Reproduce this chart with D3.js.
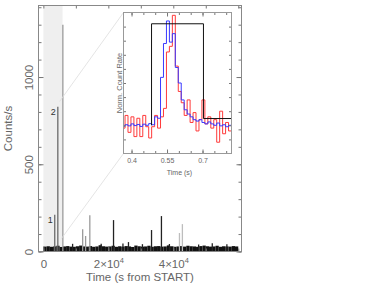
<!DOCTYPE html>
<html>
<head>
<meta charset="utf-8">
<script src="https://cdn.jsdelivr.net/npm/d3@7"></script>
<style>
  body { margin: 0; background: #fff; }
  svg { display: block; font-family: "Liberation Sans", Arial, sans-serif; }
</style>
</head>
<body>
<svg id="chart" width="382" height="286"></svg>
<script>
// light curve, 1000 s bins (counts/s)
const binWidth = 1000;
const baseRate = [28, 30, 27, 29, 33, 26, 29, 31, 28, 27, 30, 34, 29, 28, 31, 27, 29, 36, 30, 28,
                  29, 33, 27, 30, 28, 31, 29, 26, 34, 30, 28, 29, 33, 27, 30, 31, 28, 29, 35, 30,
                  27, 29, 31, 28, 33, 30, 29, 27, 31, 34, 30, 28, 29, 33, 27, 30, 29, 28, 31, 29];

// short spikes above the persistent level
const spikeTime = [3500, 4450, 6000, 12100, 13000, 14300, 17800, 21600, 26200, 30500, 33300, 36350, 41900, 42800, 47800, 52000, 9000, 24500, 38800, 56500];
const spikeRate = [210, 830, 1300, 128, 89, 208, 45, 180, 54, 42, 123, 203, 106, 157, 40, 48, 44, 46, 43, 41];
const spikeKind = ["burst", "burst", "grey", "grey", "grey", "grey", "flare", "flare", "flare", "flare", "flare", "flare", "faint", "faint", "flare", "flare", "flare", "flare", "flare", "flare"];
const burstLabel = [{idx: 0, text: "1"}, {idx: 1, text: "2"}];
const zoomSpan = [0, 5900];

// inset: normalised rate of burst 2, 12.5 ms bins
const insetBin = 0.0125;
const insetStart = 0.36;
const blueRate = [0.97, 1.02, 0.98, 1.05, 0.99, 1.03, 0.96, 1.04, 1.0, 1.06, 1.02, 1.3, 1.25, 2.7, 3.9,
                  4.7, 3.95, 4.25, 3.05, 2.5, 1.9, 1.55, 1.4, 1.3, 1.2, 1.15, 1.2, 1.1, 1.05, 1.12, 1.05,
                  1.0, 1.08, 0.98, 1.02, 0.95, 1.0];
const redRate = [0.9, 1.35, 0.75, 1.3, 0.6, 1.25, 0.6, 1.35, 0.95, 0.55, 0.95, 1.35, 0.9, 1.3, 1.6, 3.6,
                 3.8, 4.9, 3.1, 2.2, 1.8, 1.35, 1.9, 1.1, 1.45, 0.8, 1.2, 1.9, 1.05, 1.3, 0.9, 1.2,
                 0.4, 1.5, 0.7, 1.1, 0.8];
const modelTime = [0.4845, 0.4845, 0.704, 0.8225];
const modelRate = [1.0, 4.6, 1.24, 1.24];
const insetTicks = [0.4, 0.55, 0.7];

const svg = d3.select("#chart");
const frame = {left: 38.5, right: 241.5, top: 5.5, bottom: 251.5};

const x = d3.scaleLinear().domain([-1500, 61000]).range([frame.left, frame.right]);
const y = d3.scaleLinear().domain([0, 1410]).range([frame.bottom, frame.top]);
const kindColor = d3.scaleOrdinal()
    .domain(["burst", "grey", "flare", "faint"])
    .range(["#6a6a6a", "#9a9a9a", "#222", "#bdbdbd"]);

// shaded zoom interval
svg.append("rect")
    .attr("x", x(zoomSpan[0])).attr("y", frame.top)
    .attr("width", x(zoomSpan[1]) - x(zoomSpan[0]))
    .attr("height", frame.bottom - frame.top)
    .attr("fill", "#efefef");

// persistent emission
svg.append("g").selectAll("rect")
    .data(baseRate)
    .join("rect")
    .attr("x", (d, i) => x(i * binWidth))
    .attr("width", (d, i) => x((i + 1) * binWidth) - x(i * binWidth))
    .attr("y", d => y(d))
    .attr("height", d => y(0) - y(d))
    .attr("fill", "#111");

svg.append("g").selectAll("line")
    .data(spikeTime)
    .join("line")
    .attr("x1", d => x(d)).attr("x2", d => x(d))
    .attr("y1", y(0))
    .attr("y2", (d, i) => y(spikeRate[i]))
    .attr("stroke", (d, i) => kindColor(spikeKind[i]))
    .attr("stroke-width", 1.3);

svg.append("g").selectAll("text")
    .data(burstLabel)
    .join("text")
    .attr("x", d => x(spikeTime[d.idx]) - 2)
    .attr("y", d => y(spikeRate[d.idx]) + 8)
    .attr("text-anchor", "end")
    .attr("font-size", 9)
    .attr("fill", "#333")
    .text(d => d.text);

// axes, ticks pointing inwards on all four sides
function ticks(g) { g.select(".domain").remove(); g.selectAll("line").attr("stroke", "#777"); }

svg.append("g").attr("transform", `translate(${frame.left},0)`)
    .call(d3.axisLeft(y).tickValues(d3.range(0, 1401, 100)).tickSize(-3).tickFormat("")).call(ticks);
svg.append("g").attr("transform", `translate(${frame.right},0)`)
    .call(d3.axisRight(y).tickValues(d3.range(0, 1401, 100)).tickSize(-3).tickFormat("")).call(ticks);
svg.append("g").attr("transform", `translate(${frame.right},0)`)
    .call(d3.axisRight(y).tickValues([0, 500, 1000]).tickSize(-5).tickFormat("")).call(ticks);
const yAxis = svg.append("g").attr("transform", `translate(${frame.left},0)`)
    .call(d3.axisLeft(y).tickValues([0, 500, 1000]).tickSize(-5).tickFormat(d3.format("d"))).call(ticks);
yAxis.selectAll("text")
    .attr("x", null).attr("dy", null)
    .attr("transform", "translate(-5.5,0) rotate(-90)")
    .attr("text-anchor", "middle")
    .attr("font-size", 11.5)
    .attr("fill", "#666");

svg.append("g").attr("transform", `translate(0,${frame.top})`)
    .call(d3.axisTop(x).tickValues(d3.range(0, 60001, 10000)).tickSize(-3).tickFormat("")).call(ticks);
svg.append("g").attr("transform", `translate(0,${frame.bottom})`)
    .call(d3.axisBottom(x).tickValues(d3.range(0, 60001, 10000)).tickSize(-3).tickFormat("")).call(ticks);
const xAxis = svg.append("g").attr("transform", `translate(0,${frame.bottom})`)
    .call(d3.axisBottom(x).tickValues([0, 20000, 40000]).tickSize(-5).tickPadding(8).tickFormat("")).call(ticks);
xAxis.selectAll("text")
    .attr("font-size", 11.5)
    .attr("fill", "#666")
    .each(function(d) {
        const t = d3.select(this);
        if (d === 0) { t.text("0"); return; }
        t.append("tspan").text((d / 1e4) + "\u00d710");
        t.append("tspan").attr("font-size", 7.5).attr("dy", "-0.6em").text("4");
    });

svg.append("rect")
    .attr("x", frame.left).attr("y", frame.top)
    .attr("width", frame.right - frame.left)
    .attr("height", frame.bottom - frame.top)
    .attr("fill", "none")
    .attr("stroke", "#888");

svg.append("text")
    .attr("transform", `translate(12,${(frame.top + frame.bottom) / 2}) rotate(-90)`)
    .attr("text-anchor", "middle")
    .attr("font-size", 11.5)
    .attr("fill", "#666")
    .text("Counts/s");

svg.append("text")
    .attr("x", (frame.left + frame.right) / 2)
    .attr("y", 281)
    .attr("text-anchor", "middle")
    .attr("font-size", 11.5)
    .attr("fill", "#666")
    .text("Time (s from START)");

// inset
const box = {left: 123.5, right: 231.5, top: 12.5, bottom: 153.5};
const ix = d3.scaleLinear().domain([0.366, 0.8225]).range([box.left, box.right]);
const iy = d3.scaleLinear().domain([0, 5]).range([box.bottom, box.top]);

// connector lines from the burst to the inset
svg.append("line")
    .attr("x1", x(5000)).attr("y1", y(860))
    .attr("x2", box.left).attr("y2", box.top)
    .attr("stroke", "#ddd").attr("stroke-width", 0.8);
svg.append("line")
    .attr("x1", x(5600)).attr("y1", y(75))
    .attr("x2", box.left).attr("y2", box.bottom)
    .attr("stroke", "#ddd").attr("stroke-width", 0.8);

svg.append("rect")
    .attr("x", box.left).attr("y", box.top)
    .attr("width", box.right - box.left).attr("height", box.bottom - box.top)
    .attr("fill", "#fff");

svg.append("clipPath").attr("id", "inset-clip")
    .append("rect")
    .attr("x", box.left).attr("y", box.top)
    .attr("width", box.right - box.left).attr("height", box.bottom - box.top);

const stepLine = d3.line().curve(d3.curveStepAfter).x(d => ix(d[0])).y(d => iy(d[1]));
const binned = rates => rates.map((v, i) => [insetStart + i * insetBin, v])
    .concat([[insetStart + rates.length * insetBin, rates[rates.length - 1]]]);

const plot = svg.append("g").attr("clip-path", "url(#inset-clip)");
plot.append("path")
    .attr("d", stepLine(binned(redRate)))
    .attr("fill", "none").attr("stroke", "#ff3a3a").attr("stroke-width", 1);
plot.append("path")
    .attr("d", stepLine(binned(blueRate)))
    .attr("fill", "none").attr("stroke", "#3a3aff").attr("stroke-width", 1);
plot.append("path")
    .attr("d", stepLine(modelTime.map((t, i) => [t, modelRate[i]])))
    .attr("fill", "none").attr("stroke", "#111").attr("stroke-width", 1);

svg.append("g").attr("transform", `translate(${box.left},0)`)
    .call(d3.axisLeft(iy).tickValues(d3.range(0.5, 5, 0.5)).tickSize(-2.5).tickFormat("")).call(ticks);
svg.append("g").attr("transform", `translate(${box.right},0)`)
    .call(d3.axisRight(iy).tickValues(d3.range(0.5, 5, 0.5)).tickSize(-2.5).tickFormat("")).call(ticks);
const minorT = d3.range(0.4, 0.81, 0.05);
svg.append("g").attr("transform", `translate(0,${box.top})`)
    .call(d3.axisTop(ix).tickValues(minorT).tickSize(-2.5).tickFormat("")).call(ticks);
svg.append("g").attr("transform", `translate(0,${box.bottom})`)
    .call(d3.axisBottom(ix).tickValues(minorT).tickSize(-2.5).tickFormat("")).call(ticks);
svg.append("g").attr("transform", `translate(0,${box.top})`)
    .call(d3.axisTop(ix).tickValues(insetTicks).tickSize(-4).tickFormat("")).call(ticks);
const ixAxis = svg.append("g").attr("transform", `translate(0,${box.bottom})`)
    .call(d3.axisBottom(ix).tickValues(insetTicks).tickSize(-4).tickPadding(5).tickFormat(d => String(d))).call(ticks);
ixAxis.selectAll("text").attr("font-size", 7).attr("fill", "#666");

svg.append("rect")
    .attr("x", box.left).attr("y", box.top)
    .attr("width", box.right - box.left).attr("height", box.bottom - box.top)
    .attr("fill", "none").attr("stroke", "#999");

svg.append("text")
    .attr("transform", `translate(121.5,${(box.top + box.bottom) / 2}) rotate(-90)`)
    .attr("text-anchor", "middle")
    .attr("font-size", 7.5)
    .attr("fill", "#666")
    .text("Norm. Count Rate");

svg.append("text")
    .attr("x", (box.left + box.right) / 2 + 2)
    .attr("y", 175)
    .attr("text-anchor", "middle")
    .attr("font-size", 7)
    .attr("fill", "#666")
    .text("Time (s)");
</script>
</body>
</html>
